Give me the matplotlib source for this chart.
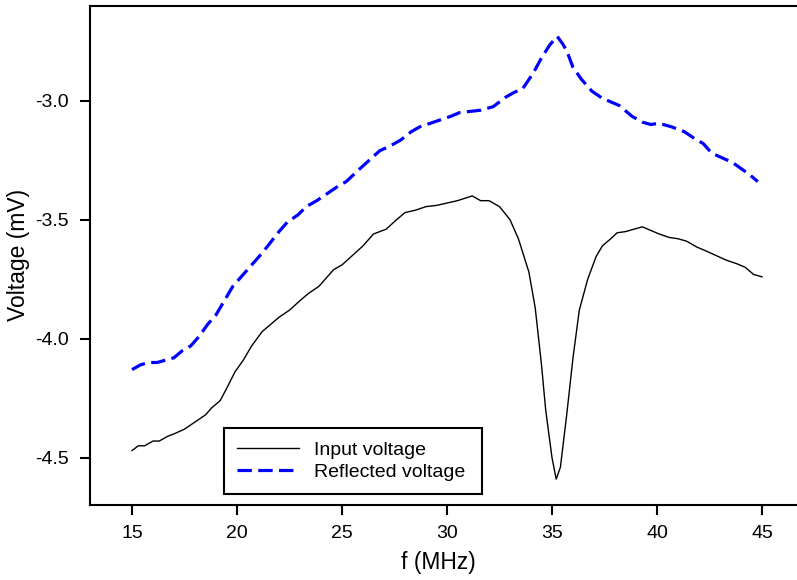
import numpy as np
import matplotlib
matplotlib.use('Agg')
import matplotlib.pyplot as plt

plt.rcParams['font.family'] = ['Liberation Sans', 'DejaVu Sans']
plt.rcParams['axes.unicode_minus'] = False

# input voltage (black)
f_in = [15.0, 15.3, 15.6, 16.0, 16.3, 16.7, 17.0, 17.5, 18.0, 18.5, 18.8, 19.2, 19.5, 19.9,
        20.3, 20.7, 21.2, 21.6, 22.0, 22.5, 23.0, 23.4, 23.9, 24.3, 24.6, 25.0, 25.5, 26.0,
        26.5, 27.1, 27.6, 28.0, 28.5, 29.0, 29.5, 30.0, 30.5, 31.2, 31.6, 32.0, 32.5, 33.0,
        33.4, 33.9, 34.2, 34.5, 34.7, 35.0, 35.2, 35.4, 35.7, 36.0, 36.3, 36.7, 37.1, 37.4,
        37.8, 38.1, 38.5, 38.9, 39.3, 39.7, 40.1, 40.6, 41.0, 41.4, 41.9, 42.3, 42.8, 43.3,
        43.8, 44.2, 44.6, 45.0]
v_in = [-4.47, -4.45, -4.45, -4.43, -4.43, -4.41, -4.40, -4.38, -4.35, -4.32, -4.29, -4.26, -4.21, -4.14,
        -4.09, -4.03, -3.97, -3.94, -3.91, -3.88, -3.84, -3.81, -3.78, -3.74, -3.71, -3.69, -3.65, -3.61,
        -3.56, -3.54, -3.50, -3.47, -3.46, -3.445, -3.44, -3.43, -3.42, -3.40, -3.42, -3.42, -3.445, -3.50,
        -3.58, -3.72, -3.87, -4.11, -4.30, -4.50, -4.59, -4.54, -4.32, -4.08, -3.88, -3.75, -3.655, -3.61,
        -3.58, -3.555, -3.55, -3.54, -3.53, -3.545, -3.56, -3.575, -3.58, -3.59, -3.615, -3.63, -3.65, -3.67,
        -3.685, -3.70, -3.73, -3.74]

# reflected voltage (blue dashed)
f_ref = [15.0, 15.4, 15.8, 16.2, 16.6, 17.0, 17.4, 17.8, 18.2, 18.6, 19.0, 19.4, 19.8, 20.3,
         20.8, 21.2, 21.6, 22.0, 22.4, 22.9, 23.3, 23.8, 24.3, 24.8, 25.2, 25.8, 26.3, 26.8,
         27.3, 27.8, 28.3, 28.7, 29.2, 29.7, 30.2, 30.6, 31.1, 31.6, 32.2, 32.5, 32.8, 33.2,
         33.6, 34.1, 34.5, 34.9, 35.25, 35.5, 35.7, 36.0, 36.4, 36.9, 37.4, 37.8, 38.2, 38.8,
         39.3, 39.7, 40.1, 40.7, 41.3, 41.8, 42.2, 42.6, 43.1, 43.6, 44.0, 44.4, 44.8]
v_ref = [-4.13, -4.11, -4.10, -4.10, -4.09, -4.08, -4.05, -4.03, -3.99, -3.94, -3.90, -3.84, -3.78, -3.73,
         -3.68, -3.64, -3.595, -3.55, -3.51, -3.48, -3.445, -3.42, -3.39, -3.36, -3.34, -3.29, -3.25, -3.21,
         -3.19, -3.165, -3.13, -3.11, -3.095, -3.08, -3.065, -3.05, -3.045, -3.04, -3.025, -3.005, -2.985, -2.965,
         -2.95, -2.885, -2.82, -2.765, -2.73, -2.76, -2.79, -2.86, -2.91, -2.96, -2.99, -3.005, -3.02, -3.065,
         -3.09, -3.10, -3.095, -3.11, -3.13, -3.16, -3.18, -3.22, -3.24, -3.26, -3.285, -3.31, -3.34]

xticks = [15, 20, 25, 30, 35, 40, 45]
yticks = [-4.5, -4.0, -3.5, -3.0]

fig = plt.figure(figsize=(7.97, 5.8), dpi=100)
ax = fig.add_axes([90/797, 74.7/580, 714/797, 499.8/580])

ax.plot(f_in, v_in, color='black', linewidth=1.0, label='Input voltage')
ax.plot(f_ref, v_ref, color='#0000ff', linewidth=2.3, dashes=(4.5, 2.0), label='Reflected voltage')

ax.set_xlim(13, 47)
ax.set_ylim(-4.7, -2.6)
ax.set_xticks(xticks)
ax.set_yticks(yticks)
ax.set_yticklabels(['%.1f' % t for t in yticks])
ax.tick_params(direction='out', length=7, width=1.5, labelsize=14)
ax.tick_params(axis='x', pad=7.5)
ax.tick_params(axis='y', pad=8)
for s in ax.spines.values():
    s.set_linewidth(1.5)

ax.set_xlabel('f (MHz)', fontsize=16.5)
ax.xaxis.set_label_coords((438-90)/714, -0.091)
ax.set_ylabel('Voltage (mV)', fontsize=16.5, labelpad=4)

leg = ax.legend(loc='lower left', bbox_to_anchor=((224-90)/714, (505.3-494)/499.8, (482-224)/714, (494-417.7)/499.8),
                mode='expand', borderaxespad=0, fontsize=14, fancybox=False, framealpha=1, edgecolor='black',
                handlelength=3.2, handletextpad=0.75, borderpad=0.68, labelspacing=0.22)
leg.get_frame().set_linewidth(1.5)

plt.savefig('out.png', dpi=100)
